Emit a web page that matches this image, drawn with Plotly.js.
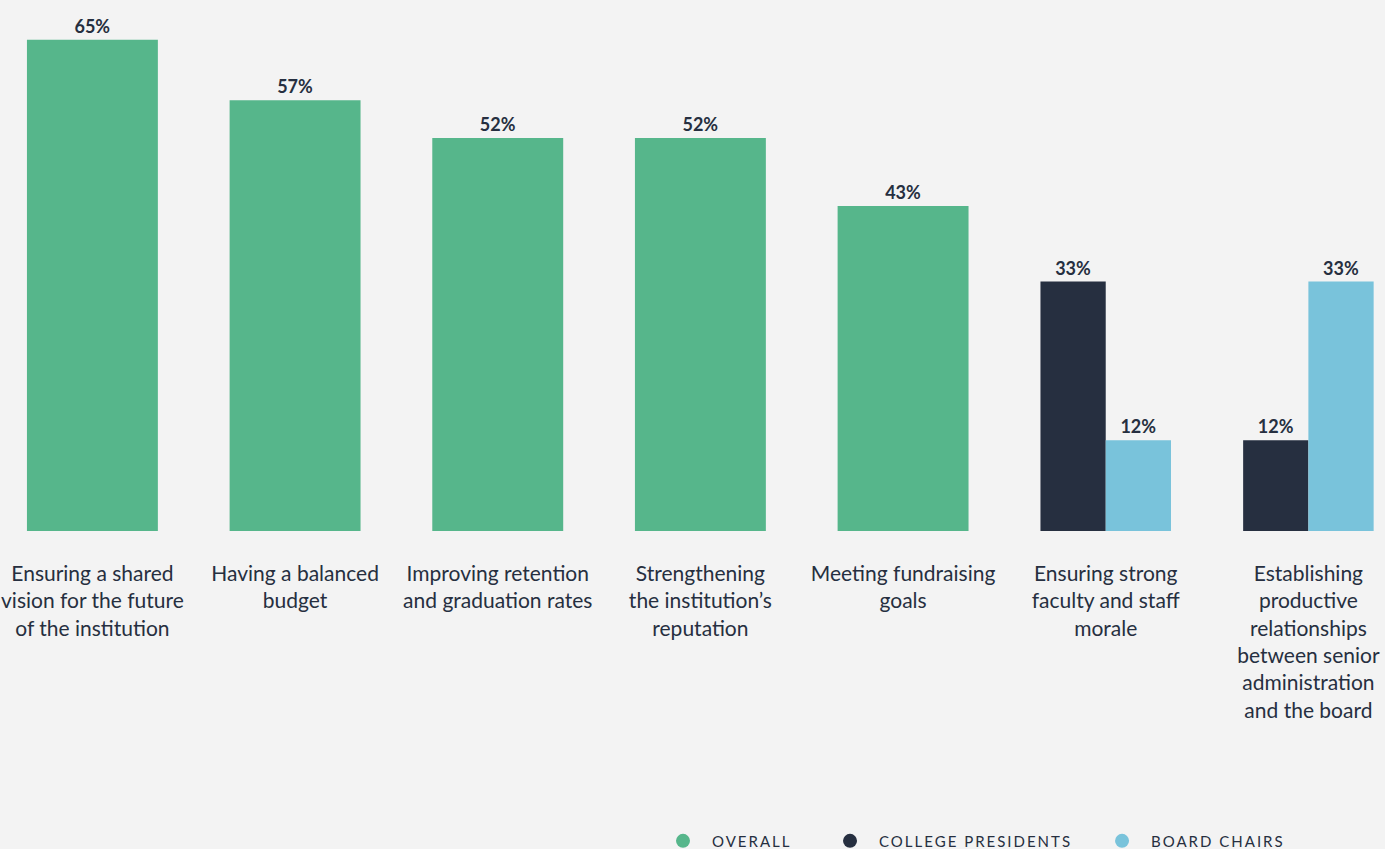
<!DOCTYPE html>
<html>
<head>
<meta charset="utf-8">
<script src="https://cdn.plot.ly/plotly-3.0.1.min.js"></script>
<style>
html,body{margin:0;padding:0;background:#f3f3f3;}
#chart{width:1385px;height:849px;}
#chart .infolayer text{letter-spacing:2px !important;}
#chart .infolayer .scrollbox, #chart .infolayer [clip-path]{clip-path:none !important;}
</style>
</head>
<body>
<div id="chart"></div>
<script>
const categories = [
  "Ensuring a shared<br>vision for the future<br>of the institution",
  "Having a balanced<br>budget",
  "Improving retention<br>and graduation rates",
  "Strengthening<br>the institution’s<br>reputation",
  "Meeting fundraising<br>goals",
  "Ensuring strong<br>faculty and staff<br>morale",
  "Establishing<br>productive<br>relationships<br>between senior<br>administration<br>and the board"
];
const overall = [65, 57, 52, 52, 43, null, null];
const collegePresidents = [null, null, null, null, null, 33, 12];
const boardChairs = [null, null, null, null, null, 12, 33];
const seriesNames = ["OVERALL", "COLLEGE PRESIDENTS", "BOARD CHAIRS"];
const colors = ["#56b68b", "#262f40", "#79c3db"];

const FONT = "Lato, 'DejaVu Sans Condensed', sans-serif";
const textColor = "#262f40";

function barTrace(vals, color, width, offset) {
  const t = {
    type: "bar",
    x: categories,
    y: vals,
    marker: {color: color},
    width: width,
    texttemplate: "%{y}%",
    textposition: "outside",
    textfont: {family: FONT, size: 18, color: textColor, weight: 700},
    cliponaxis: false,
    showlegend: false,
    hoverinfo: "skip"
  };
  if (offset !== undefined) t.offset = offset;
  return t;
}

const traces = [
  barTrace(overall, colors[0], 0.646),
  barTrace(collegePresidents, colors[1], 0.322, -0.322),
  barTrace(boardChairs, colors[2], 0.322, 0)
];
const legendIds = ["legend", "legend2", "legend3"];
seriesNames.forEach((n, i) => {
  traces.push({
    type: "scatter", mode: "markers", x: [null], y: [null], name: n,
    marker: {color: colors[i], size: 14, symbol: "circle"},
    showlegend: true, hoverinfo: "skip",
    legend: legendIds[i]
  });
});

function legendAt(xPos) {
  return {
    orientation: "h",
    x: xPos, xanchor: "left",
    y: -0.555, yanchor: "top",
    bgcolor: "rgba(0,0,0,0)",
    itemwidth: 48,
    font: {family: FONT, size: 15, color: textColor},
    itemclick: false, itemdoubleclick: false
  };
}

const layout = {
  width: 1385, height: 849,
  paper_bgcolor: "#f3f3f3",
  plot_bgcolor: "#f3f3f3",
  margin: {l: 0, r: 0, t: 2, b: 318, autoexpand: false},
  barmode: "overlay",
  font: {family: FONT, color: textColor},
  xaxis: {
    type: "category",
    range: [-0.456, 6.378],
    showgrid: false, zeroline: false, showline: false,
    ticks: "",
    ticklabelstandoff: 28,
    tickfont: {family: FONT, size: 21, color: textColor},
    fixedrange: true
  },
  yaxis: {
    range: [0, 70],
    visible: false,
    showgrid: false, zeroline: false,
    fixedrange: true
  },
  showlegend: true,
  legend: legendAt(0.4722),
  legend2: legendAt(0.5928),
  legend3: legendAt(0.7892)
};

Plotly.newPlot("chart", traces, layout, {displayModeBar: false, staticPlot: true});
</script>
</body>
</html>
